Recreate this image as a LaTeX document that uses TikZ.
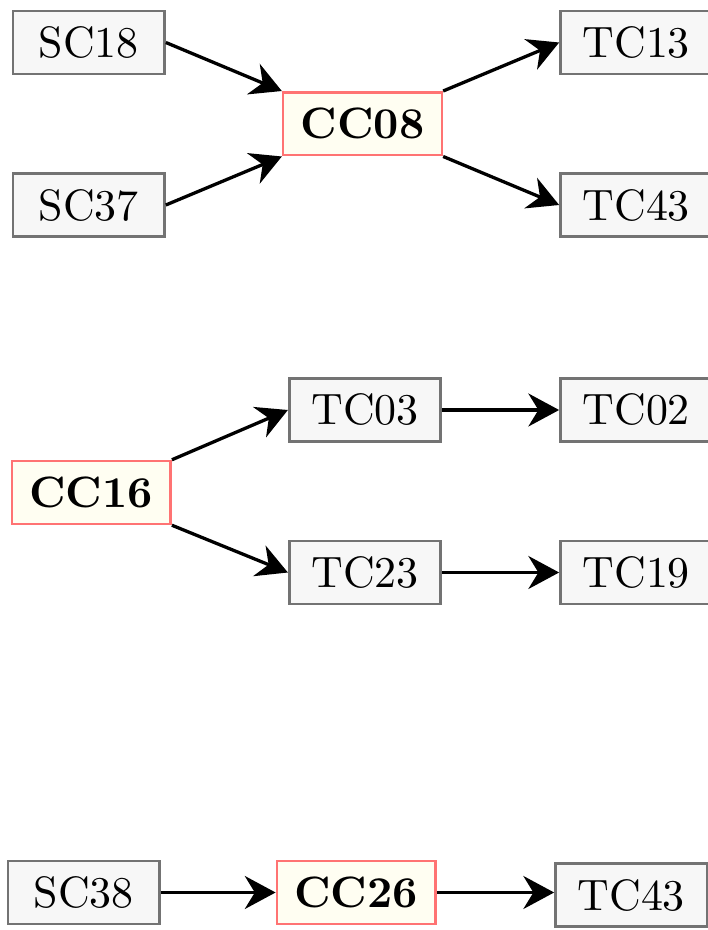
\documentclass[tikz,border=0pt]{standalone}
\usepackage{amsmath}
\usepackage{xcolor}
\usepackage{tikz}
\usetikzlibrary{arrows.meta}

\begin{document}
\begin{tikzpicture}[
    plain/.style={draw=gray!110, fill=gray!6, line width=0.6pt, inner xsep=4pt,
                  minimum width=34.5pt, minimum height=14.3pt},
    core/.style={draw=red!55, fill=yellow!5, line width=0.6pt, inner xsep=4pt,
                 minimum width=34.5pt, minimum height=14.3pt, font=\bfseries},
    link/.style={-{Stealth[length=7pt,width=7.5pt]}, line width=0.75pt}
]
\useasboundingbox (0,0) rectangle (5.656,7.44);

%%    NODES   %%
\node[plain] (sc18) at (0.71,7.10) {SC18};
\node[plain] (sc37) at (0.71,5.80) {SC37};
\node[core]  (cc08) at (2.90,6.45) {CC08};
\node[plain] (tc13) at (5.09,7.10) {TC13};
\node[plain] (tc43) at (5.09,5.80) {TC43};

\node[core]  (cc16) at (0.73,3.50) {CC16};
\node[plain] (tc03) at (2.92,4.16) {TC03};
\node[plain] (tc02) at (5.09,4.16) {TC02};
\node[plain] (tc23) at (2.92,2.86) {TC23};
\node[plain] (tc19) at (5.09,2.86) {TC19};

\node[plain] (sc38) at (0.67,0.30) {SC38};
\node[core]  (cc26) at (2.85,0.30) {CC26};
\node[plain] (tc43b) at (5.05,0.28) {TC43};

%%    ARROWS    %%
\draw [link] (sc18.east) -- (cc08.north west);
\draw [link] (sc37.east) -- (cc08.south west);
\draw [link] (cc08.north east) -- (tc13.west);
\draw [link] (cc08.south east) -- (tc43.west);

\draw [link] (cc16.north east) -- (tc03.west);
\draw [link] (cc16.south east) -- (tc23.west);
\draw [link] (tc03) -- (tc02);
\draw [link] (tc23) -- (tc19);

\draw [link] (sc38) -- (cc26);
\draw [link] (cc26) -- (cc26 -| tc43b.west);

\end{tikzpicture}
\end{document}
